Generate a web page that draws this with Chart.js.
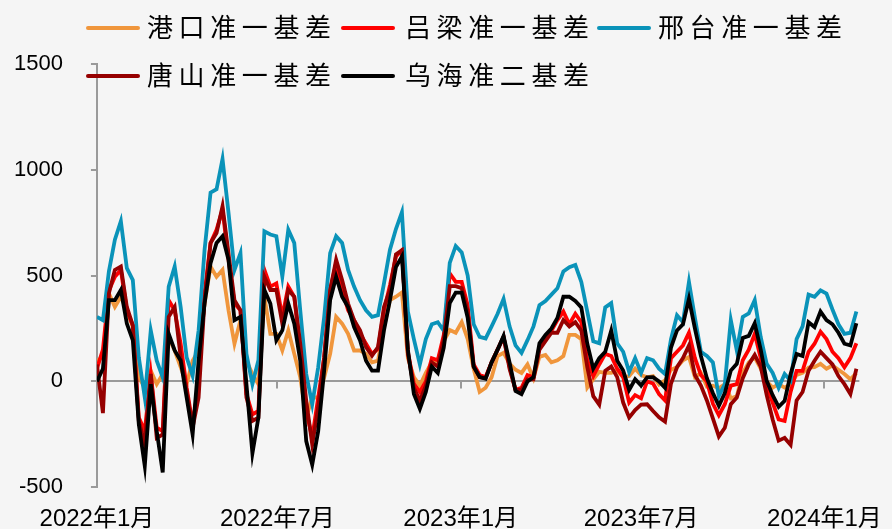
<!DOCTYPE html>
<html>
<head>
<meta charset="utf-8">
<title>基差走势</title>
<script src="https://cdn.jsdelivr.net/npm/chart.js@4.4.0/dist/chart.umd.min.js"></script>
<style>
    html, body { margin: 0; padding: 0; background: #f5f5f5; }
    #wrap { position: relative; width: 892px; height: 529px; }
    #basisChart { position: absolute; left: 0; top: 0; }
    .legend-text {
        position: absolute;
        font-family: "Noto Sans CJK SC", sans-serif;
        font-size: 26px;
        letter-spacing: 5.6px;
        line-height: 26px;
        color: #000;
        white-space: nowrap;
    }
    .legend-line { position: absolute; width: 54px; height: 4px; border-radius: 2px; }
</style>
</head>
<body>
<div id="wrap">
    <canvas id="basisChart" width="892" height="529"></canvas>
    <div id="legend"></div>
</div>
<script>
// sampled every 6 days starting 2022-01-01
const stepDays = 6;

const gangkou = [
    98, 114, 416, 352, 400, 336, 257, 19, -29, 51, -13, 35, 209, 146, 67, -13, 98, 146, 368, 543, 495, 527, 336, 178, 289, 98,
    35, -13, 400, 225, 225, 146, 241, 130, 19, -171, -76, -76, 19, 130, 305, 273, 225, 146, 146, 130, 90, 98, 257, 384, 400, 420,
    110, 20, -20, 40, 90, 100, 190, 243, 230, 280, 200, 60, -50, -30, 20, 120, 135, 84, 55, 40, 80, 15, 116, 125, 90,
    100, 120, 220, 220, 200, -29, 10, 45, 40, 40, 50, 20, 25, 60, 30, 19, 25, -15, 5, 55, 67, 100, 115, 20, 40,
    -25, -20, -33, -13, -80, -70, 40, 90, 114, 60, 0, -29, -13, -29, -13, 30, 40, 65, 67, 83, 60, 75, 55, 35, 10, 40
];
const lvliang = [
    60, 150, 430, 495, 527, 336, 265, -171, -235, 35, -219, -235, 384, 336, 178, -29, -203, -13, 416, 654, 717, 813, 575, 368, 336, -60,
    -156, -140, 527, 448, 463, 305, 448, 400, 146, -140, -267, -76, 114, 432, 559, 432, 336, 289, 225, 178, 130, 154, 336, 455, 590, 620,
    140, -10, -50, 0, 110, 100, 220, 510, 470, 470, 360, 80, 30, 21, 90, 150, 210, 70, -40, -30, 30, 20, 163, 200, 240,
    290, 330, 270, 320, 280, 100, 25, 80, 130, 120, 60, 20, -100, -65, -80, 0, -10, -60, -90, 110, 140, 170, 230, 110, 30,
    0, -105, -160, -108, -20, -13, 100, 150, 225, 110, -20, -100, -180, -187, -50, 50, 50, 140, 178, 235, 200, 140, 110, 67, 110, 180
];
const xingtai = [
    305, 289, 520, 670, 757, 535, 479, 114, -76, 241, 98, 19, 448, 543, 352, 114, 27, 241, 622, 892, 908, 1051, 797, 527, 606, 130,
    -13, 100, 709, 694, 686, 495, 717, 654, 336, 35, -108, 67, 305, 606, 686, 654, 527, 448, 384, 336, 305, 313, 463, 622, 720, 800,
    330, 200, 80, 200, 270, 280, 240, 560, 640, 610, 500, 270, 210, 203, 260, 320, 390, 260, 170, 135, 195, 260, 360, 380, 410,
    440, 520, 540, 550, 470, 330, 190, 180, 350, 370, 180, 140, 45, 110, 40, 110, 100, 60, 35, 200, 313, 280, 470, 300, 140,
    120, 90, -70, -13, 290, 146, 305, 321, 384, 210, 83, 40, -30, 35, 3, 200, 260, 410, 400, 430, 415, 340, 270, 225, 230, 330
];
const tangshan = [
    80, -150, 416, 527, 543, 352, 265, -187, -298, 35, -267, -251, 305, 352, 114, -44, -219, -76, 384, 654, 701, 828, 606, 384, 336, -76,
    -187, -171, 495, 432, 432, 273, 432, 400, 178, -92, -298, -124, 114, 432, 575, 479, 368, 289, 241, 162, 122, 162, 352, 432, 600, 620,
    130, -30, -90, -20, 90, 70, 200, 450, 450, 440, 330, 70, 20, 15, 90, 150, 210, 60, -40, -40, 10, 10, 150, 190, 230,
    230, 290, 260, 280, 240, 67, -70, -110, 50, 70, 20, -100, -171, -135, -110, -108, -140, -170, -190, -10, 67, 110, 170, 30, -20,
    -90, -175, -260, -219, -108, -76, 15, 80, 125, 70, -65, -180, -280, -267, -300, -90, -50, 50, 98, 140, 110, 80, 25, -13, -60, 60
];
const wuhai = [
    0, 60, 384, 384, 432, 273, 194, -203, -400, -13, -235, -430, 225, 146, 98, -76, -251, 98, 368, 559, 654, 686, 575, 289, 305, -13,
    -340, -171, 432, 368, 194, 241, 368, 273, 98, -282, -394, -235, 51, 384, 495, 400, 352, 257, 194, 98, 51, 51, 241, 384, 540, 590,
    150, -60, -130, -50, 70, 40, 160, 370, 420, 420, 300, 70, 20, 13, 90, 150, 215, 90, -45, -60, 0, 20, 180, 220, 250,
    300, 400, 400, 380, 350, 178, 60, 110, 140, 240, 98, 51, -40, 10, -20, 19, 20, 0, -30, 160, 241, 270, 390, 250, 120,
    15, -55, -115, -55, 51, 83, 205, 215, 275, 150, 3, -65, -120, -92, 35, 130, 120, 280, 257, 330, 290, 270, 230, 178, 170, 275
];

const seriesNames = ["港口准一基差", "吕梁准一基差", "邢台准一基差", "唐山准一基差", "乌海准二基差"];
const seriesColors = ["#F0963C", "#FF0000", "#0A93B9", "#960000", "#000000"];
const seriesValues = [gangkou, lvliang, xingtai, tangshan, wuhai];

const tickDays = [0, 181, 365, 546, 730];
const tickLabels = ["2022年1月", "2022年7月", "2023年1月", "2023年7月", "2024年1月"];

document.addEventListener("DOMContentLoaded", function () {
    // legend drawn as html, two rows like the original
    const legend = document.getElementById("legend");
    const legendPos = [[86, 147, 28], [341, 405, 28], [597, 658, 28], [86, 147, 76], [341, 405, 76]];
    seriesNames.forEach((name, i) => {
        const [lineX, textX, cy] = legendPos[i];
        const line = document.createElement("div");
        line.className = "legend-line";
        line.style.cssText = `left:${lineX}px; top:${cy - 2}px; background:${seriesColors[i]};`;
        const text = document.createElement("div");
        text.className = "legend-text";
        text.style.cssText = `left:${textX}px; top:${cy - 15}px;`;
        text.textContent = name;
        legend.appendChild(line);
        legend.appendChild(text);
    });

    // little tick marks hanging off the zero line
    const zeroTicks = {
        id: "zeroTicks",
        beforeDatasetsDraw(chart) {
            const ctx = chart.ctx;
            const x = chart.scales.x;
            const y0 = chart.scales.y.getPixelForValue(0);
            ctx.save();
            ctx.strokeStyle = "#9a9a9a";
            ctx.lineWidth = 2;
            tickDays.forEach(d => {
                const px = Math.round(x.getPixelForValue(d));
                ctx.beginPath();
                ctx.moveTo(px, y0);
                ctx.lineTo(px, y0 + 7);
                ctx.stroke();
            });
            ctx.restore();
        }
    };

    const datasets = seriesValues.map((vals, i) => ({
        label: seriesNames[i],
        data: vals.map((v, k) => ({ x: k * stepDays, y: v })),
        borderColor: seriesColors[i],
        backgroundColor: seriesColors[i],
        borderWidth: 3.8,
        pointRadius: 0,
        tension: 0,
        order: seriesValues.length - i
    }));

    new Chart(document.getElementById("basisChart"), {
        type: "line",
        data: { datasets },
        plugins: [zeroTicks],
        options: {
            responsive: false,
            animation: false,
            devicePixelRatio: 1,
            // tick padding counts twice in the axis size, so pull the edges back
            layout: { padding: { left: -14, right: 3, top: 64, bottom: -15 } },
            plugins: {
                legend: { display: false },
                tooltip: { enabled: false }
            },
            scales: {
                x: {
                    type: "linear",
                    min: 0,
                    max: 765,
                    afterBuildTicks: axis => { axis.ticks = tickDays.map(v => ({ value: v })); },
                    grid: { display: false },
                    border: { display: false },
                    ticks: {
                        autoSkip: false,
                        maxRotation: 0,
                        padding: 10,
                        color: "#000",
                        font: { family: "'Liberation Sans', 'Noto Sans CJK SC'", size: 24 },
                        callback: value => tickLabels[tickDays.indexOf(value)]
                    }
                },
                y: {
                    min: -500,
                    max: 1500,
                    border: { color: "#9a9a9a", width: 2 },
                    grid: {
                        color: c => (c.tick && c.tick.value === 0 ? "#9a9a9a" : "rgba(0,0,0,0)"),
                        lineWidth: 2,
                        tickColor: "#9a9a9a",
                        tickLength: 6
                    },
                    ticks: {
                        stepSize: 500,
                        padding: 28,
                        color: "#000",
                        font: { family: "'Liberation Sans'", size: 22 },
                        callback: value => String(value)
                    }
                }
            }
        }
    });
});
</script>
</body>
</html>
